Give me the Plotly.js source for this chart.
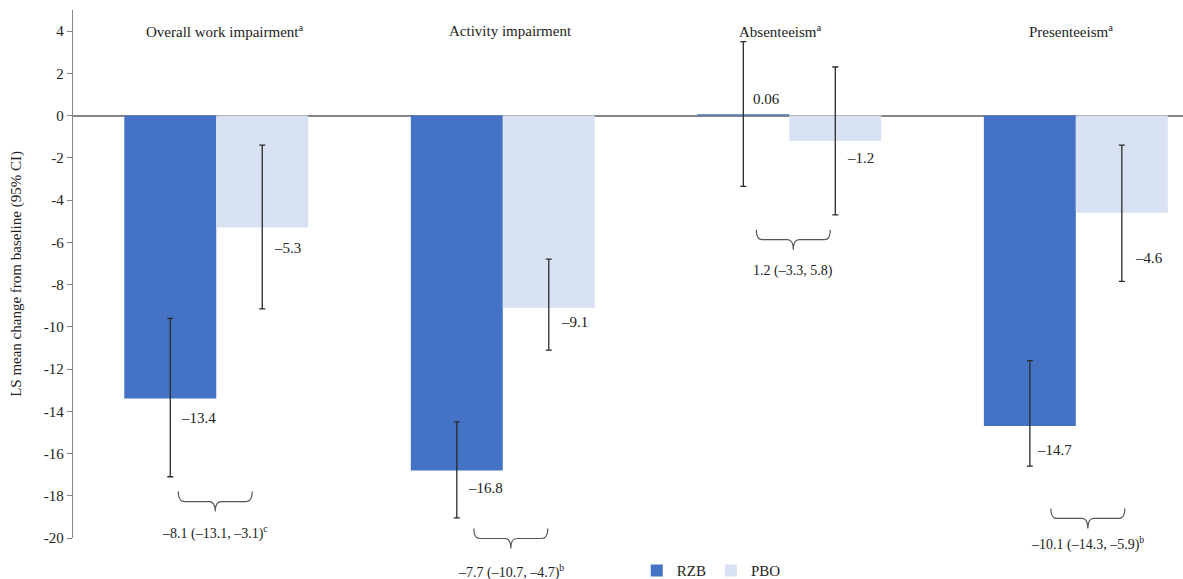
<!DOCTYPE html>
<html>
<head>
<meta charset="utf-8">
<script src="https://cdn.plot.ly/plotly-3.0.1.min.js"></script>
<style>html,body{margin:0;padding:0;background:#fff;}#chart{width:1183px;height:579px;}</style>
</head>
<body>
<div id="chart"></div>
<script>
// ---- data ----
const categories = ["Overall work impairment", "Activity impairment", "Absenteeism", "Presenteeism"];
const categorySup = ["a", "", "a", "a"];
const seriesNames = ["RZB", "PBO"];
const rzbMean = [-13.4, -16.8, 0.06, -14.7];
const rzbLow  = [-17.1, -19.05, -3.35, -16.6];
const rzbHigh = [-9.6, -14.5, 3.5, -11.6];
const pboMean = [-5.3, -9.1, -1.2, -4.6];
const pboLow  = [-9.15, -11.1, -4.7, -7.85];
const pboHigh = [-1.4, -6.8, 2.3, -1.4];
const diffEst = [-8.1, -7.7, 1.2, -10.1];
const diffLow = [-13.1, -10.7, -3.3, -14.3];
const diffHigh = [-3.1, -4.7, 5.8, -5.9];
const diffSup = ["c", "b", "", "b"];
const yTickVals = [4, 2, 0, -2, -4, -6, -8, -10, -12, -14, -16, -18, -20];
const yTickText = ["4", "2", "0", "-2", "-4", "-6", "-8", "-10", "-12", "-14", "-16", "-18", "-20"];

// ---- style ----
const FONT = "Liberation Serif";
const colors = ["#4472C4", "#D9E2F3"];
const rzbLabelDy = [-19, -18, 15, -24];   // pixel shift of value labels
const pboLabelDy = [-20, -14, -17, -45];
const rzbLabelDx = [-37, -37, -38, -41];
const pboLabelDx = [56, 56, 56, 57];
const braceY = [-17.8, -19.55, -5.4, -18.6]; // brace top positions (axis units)
const braceDx = [-1, 8, 4, 12];
const diffTextDy = [-41, -43, -41, -35];
const titleDx = [8, 8, -9, -5];
const Y_MIN = -20, Y_MAX = 5;
const toPaper = v => (v - Y_MIN) / (Y_MAX - Y_MIN);

function fmt(v) { return (v < 0 ? "\u2013" : "") + String(Math.abs(v)); }

const traces = [
  {
    type: "bar", name: seriesNames[0], x: categories, y: rzbMean,
    marker: { color: colors[0] },
    error_y: { type: "data", symmetric: false,
      array: rzbHigh.map((h, i) => h - rzbMean[i]),
      arrayminus: rzbMean.map((m, i) => m - rzbLow[i]),
      color: "#2b2b2b", thickness: 1.3, width: 3 },
    hoverinfo: "skip"
  },
  {
    type: "bar", name: seriesNames[1], x: categories, y: pboMean,
    marker: { color: colors[1] },
    error_y: { type: "data", symmetric: false,
      array: pboHigh.map((h, i) => h - pboMean[i]),
      arrayminus: pboMean.map((m, i) => m - pboLow[i]),
      color: "#2b2b2b", thickness: 1.3, width: 3 },
    hoverinfo: "skip"
  }
];

const annotations = [];
const shapes = [];
categories.forEach((c, i) => {
  annotations.push({
    x: c, xref: "x", y: 0.96, yref: "paper", yanchor: "middle", xshift: titleDx[i],
    text: c + (categorySup[i] ? "<sup>" + categorySup[i] + "</sup>" : ""),
    showarrow: false, font: { family: FONT, size: 15, color: "#222" }
  });
  annotations.push({
    x: c, xref: "x", y: rzbMean[i], yref: "y", xshift: rzbLabelDx[i], yshift: rzbLabelDy[i],
    xanchor: "left", yanchor: "middle", text: fmt(rzbMean[i]), showarrow: false,
    font: { family: FONT, size: 15, color: "#222" }
  });
  annotations.push({
    x: c, xref: "x", y: pboMean[i], yref: "y", xshift: pboLabelDx[i], yshift: pboLabelDy[i],
    xanchor: "left", yanchor: "middle", text: fmt(pboMean[i]), showarrow: false,
    font: { family: FONT, size: 15, color: "#222" }
  });
  annotations.push({
    x: c, xref: "x", y: toPaper(braceY[i]), yref: "paper", yanchor: "middle",
    xshift: braceDx[i], yshift: diffTextDy[i],
    text: fmt(diffEst[i]) + " (" + fmt(diffLow[i]) + ", " + fmt(diffHigh[i]) + ")" +
      (diffSup[i] ? "<sup>" + diffSup[i] + "</sup>" : ""),
    showarrow: false, font: { family: FONT, size: 14, color: "#222" }
  });
  // curly brace
  const d = braceDx[i];
  shapes.push({
    type: "path", xref: "x", yref: "paper", xsizemode: "pixel", ysizemode: "pixel",
    xanchor: i, yanchor: toPaper(braceY[i]),
    path: `M ${d-37},0 Q ${d-37},-10 ${d-31},-10 L ${d-6},-10 Q ${d},-10 ${d},-20 Q ${d},-10 ${d+6},-10 L ${d+31},-10 Q ${d+37},-10 ${d+37},0`,
    line: { color: "#555", width: 1.2 }
  });
});

const layout = {
  width: 1183, height: 579,
  margin: { l: 73, r: 0, t: 10, b: 41, autoexpand: false },
  paper_bgcolor: "#fff", plot_bgcolor: "#fff",
  barmode: "group", bargap: 0.358, bargroupgap: 0,
  showlegend: true,
  legend: { orientation: "h", x: 0.575, xanchor: "center", y: -0.062, yanchor: "middle",
    font: { family: FONT, size: 15, color: "#222" }, itemwidth: 30, traceorder: "normal" },
  font: { family: FONT, size: 15, color: "#222" },
  xaxis: { type: "category", range: [-0.5, 3.374], showticklabels: false, ticks: "",
    showline: false, showgrid: false, zeroline: false, fixedrange: true },
  yaxis: {
    range: [Y_MIN, Y_MAX], tickvals: yTickVals, ticktext: yTickText,
    ticks: "outside", ticklen: 5, tickcolor: "#868686", tickwidth: 1,
    showline: true, linecolor: "#868686", linewidth: 1.3,
    showgrid: false, zeroline: true, zerolinecolor: "#868686", zerolinewidth: 2,
    tickfont: { family: FONT, size: 15, color: "#222" },
    title: { text: "LS mean change from baseline (95% CI)", standoff: 18,
      font: { family: FONT, size: 15, color: "#222" } },
    automargin: false
  },
  annotations: annotations,
  shapes: shapes
};

Plotly.newPlot("chart", traces, layout, { displayModeBar: false, staticPlot: true });
</script>
</body>
</html>
